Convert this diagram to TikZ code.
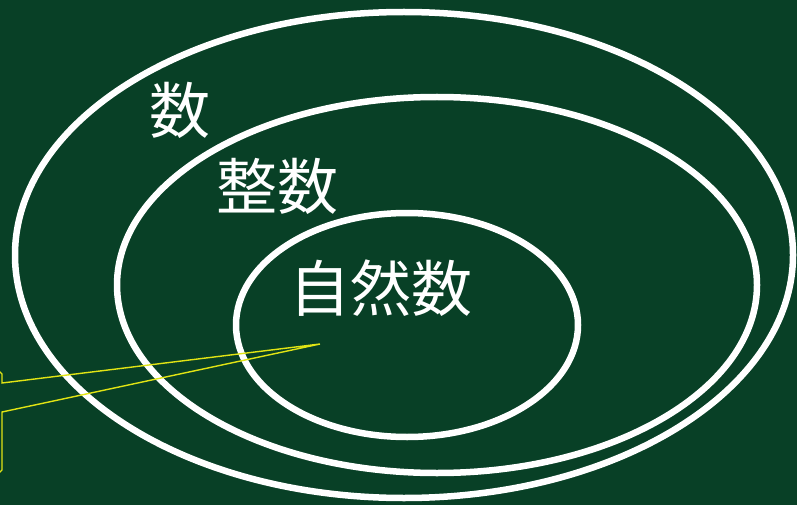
\documentclass[tikz,border=0pt]{standalone}
\usepackage{fontspec}
\newfontfamily\cjk{Noto Sans CJK JP}
\definecolor{board}{RGB}{8,64,38}
\definecolor{callout}{RGB}{225,228,20}
\tikzset{
  ring/.style={draw=white, line width=6.5pt},
  label/.style={text=white, font=\cjk\fontsize{61}{64}\selectfont, inner sep=0pt},
  calloutline/.style={draw=callout, line width=1.4pt, line join=miter}
}
\begin{document}
\begin{tikzpicture}[x=1pt,y=-1pt]
\fill[board] (0,0) rectangle (797,505);
\useasboundingbox (0,0) rectangle (797,505);
% ellipses
\draw[ring] (404,255) ellipse [x radius=389, y radius=243];
\draw[ring] (437,285) ellipse [x radius=320, y radius=188];
\draw[ring] (407,325) ellipse [x radius=171, y radius=112];
% labels
\node[label] (shu) at (180,110) {数};
\node[label] (zhengshu) at (277,186) {整数};
\node[label] (ziranshu) at (381,288) {自然数};
% callout pointer
\coordinate (tip) at (320,344);
\draw[calloutline] (-2,370) -- (2,374) -- (2,383) -- (tip) -- (2,412) -- (2,470) -- (-2,474);
\end{tikzpicture}
\end{document}
